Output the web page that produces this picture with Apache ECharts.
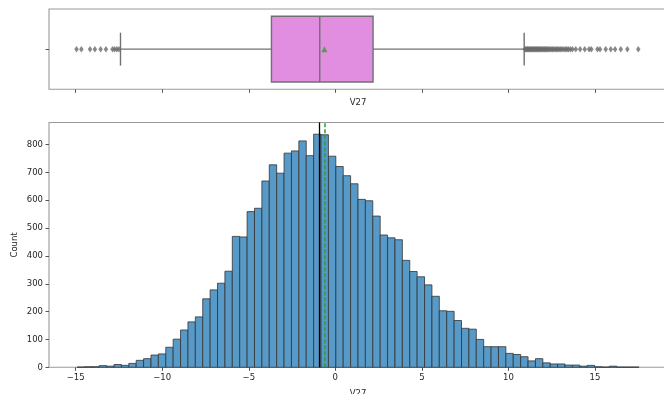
<!DOCTYPE html>
<html>
<head>
<meta charset="utf-8">
<title>V27 distribution</title>
<script src="https://cdn.jsdelivr.net/npm/echarts@6/dist/echarts.min.js"></script>
<style>
  html, body { margin: 0; padding: 0; background: #fff; }
  #chart { width: 664px; height: 394px; }
</style>
</head>
<body>
<div id="chart"></div>
<script>
// Histogram bins: 76 equal-width bins starting at the data minimum
const binStart = -14.92;
const binWidth = 0.4271;
const counts = [
  1, 2, 2, 6, 4, 10, 7, 14, 25, 31, 44, 48, 72, 101, 134, 163, 181, 246,
  278, 302, 345, 470, 468, 559, 571, 669, 727, 697, 769, 777, 813, 760, 837, 835, 758, 721,
  688, 659, 603, 598, 543, 475, 465, 458, 384, 344, 325, 296, 255, 203, 201, 168, 140,
  137, 100, 74, 74, 74, 50, 46, 38, 23, 31, 16, 12, 12, 8, 8, 4, 7, 2, 1, 4, 1, 1, 1
];

// Box plot summary: [lower whisker, Q1, median, Q3, upper whisker]
const boxStats = [-12.41, -3.69, -0.90, 2.18, 10.91];
const meanValue = -0.63;
const medianValue = -0.90;

// Points beyond the whiskers
const lowOutliers = [-14.95, -14.67, -14.17, -13.89, -13.56, -13.25, -12.87, -12.75, -12.62, -12.50];
const highOutliers = [
  10.95, 11.00, 11.06, 11.10, 11.15, 11.20, 11.26, 11.30, 11.35, 11.41, 11.46, 11.50,
  11.56, 11.62, 11.67, 11.72, 11.78, 11.83, 11.90, 11.95, 12.01, 12.08, 12.14, 12.20,
  12.27, 12.33, 12.40, 12.47, 12.55, 12.62, 12.70, 12.78, 12.85, 12.93, 13.02, 13.10,
  13.20, 13.30, 13.38, 13.47, 13.58, 13.70,
  13.89, 14.14, 14.41, 14.66, 14.79, 15.14, 15.29, 15.62, 15.91, 16.16, 16.49, 16.87, 17.50
];

// Tick labels
const xTicks = [-15, -10, -5, 0, 5, 10, 15];
const yTicks = [0, 100, 200, 300, 400, 500, 600, 700, 800];

const histData = counts.map((c, i) => [binStart + i * binWidth, binStart + (i + 1) * binWidth, c]);
const outlierData = lowOutliers.concat(highOutliers).map(v => [v, 0]);

const FONT = 'DejaVu Sans';
const TEXT = '#262626';
const SPINE = '#9a9a9a';
const minus = v => String(v).replace('-', '\u2212');

const chart = echarts.init(document.getElementById('chart'), null, { renderer: 'canvas' });

const xCommon = {
  type: 'value',
  min: -16.54,
  max: 19.16,
  position: 'bottom',
  axisLine: { show: false, onZero: false },
  splitLine: { show: false },
  axisTick: { show: true, length: 3.5, customValues: xTicks, lineStyle: { color: '#555', width: 1 } },
  nameLocation: 'middle',
  nameMoveOverlap: false,
  nameTextStyle: { fontFamily: FONT, fontSize: 8.5, color: TEXT },
  name: 'V27'
};

const gridCommon = {
  left: 49, right: -3, show: true, borderColor: SPINE, borderWidth: 1.1,
  backgroundColor: 'transparent', containLabel: false, outerBoundsMode: 'none'
};

chart.setOption({
  animation: false,
  backgroundColor: '#fff',
  grid: [
    Object.assign({}, gridCommon, { top: 9, height: 80.3 }),
    Object.assign({}, gridCommon, { top: 122.5, height: 244.8 })
  ],
  xAxis: [
    Object.assign({}, xCommon, {
      gridIndex: 0,
      nameGap: 9,
      axisLabel: { show: false }
    }),
    Object.assign({}, xCommon, {
      gridIndex: 1,
      nameGap: 22,
      axisLabel: {
        show: true, customValues: xTicks, margin: 6,
        fontFamily: FONT, fontSize: 8.5, color: TEXT,
        formatter: v => minus(v)
      }
    })
  ],
  yAxis: [
    {
      gridIndex: 0, type: 'value', min: -0.5, max: 0.5, position: 'left',
      axisLine: { show: false, onZero: false }, splitLine: { show: false },
      axisTick: { show: true, length: 3.5, customValues: [0], lineStyle: { color: '#555' } },
      axisLabel: { show: false }
    },
    {
      gridIndex: 1, type: 'value', min: 0, max: 879, position: 'left',
      axisLine: { show: false, onZero: false }, splitLine: { show: false },
      axisTick: { show: true, length: 3.5, customValues: yTicks, lineStyle: { color: '#555' } },
      axisLabel: {
        show: true, customValues: yTicks, margin: 6,
        fontFamily: FONT, fontSize: 8.5, color: TEXT
      },
      name: 'Count', nameLocation: 'middle', nameGap: 30, nameRotate: 90,
      nameMoveOverlap: false,
      nameTextStyle: { fontFamily: FONT, fontSize: 8.5, color: TEXT }
    }
  ],
  series: [
    {
      // box, whiskers, caps and median line
      type: 'custom',
      xAxisIndex: 0, yAxisIndex: 0,
      data: [boxStats],
      renderItem: function (params, api) {
        const lo = api.value(0), q1 = api.value(1), med = api.value(2), q3 = api.value(3), hi = api.value(4);
        const cy = api.coord([0, 0])[1];
        const half = api.size([0, 0.82])[1] / 2;
        const capHalf = half / 2;
        const pLo = api.coord([lo, 0])[0];
        const pQ1 = api.coord([q1, 0])[0];
        const pMed = api.coord([med, 0])[0];
        const pQ3 = api.coord([q3, 0])[0];
        const pHi = api.coord([hi, 0])[0];
        const stroke = { stroke: '#707070', lineWidth: 1.4 };
        return {
          type: 'group',
          children: [
            { type: 'line', shape: { x1: pLo, y1: cy, x2: pQ1, y2: cy }, style: stroke },
            { type: 'line', shape: { x1: pQ3, y1: cy, x2: pHi, y2: cy }, style: stroke },
            { type: 'line', shape: { x1: pLo, y1: cy - capHalf, x2: pLo, y2: cy + capHalf }, style: stroke },
            { type: 'line', shape: { x1: pHi, y1: cy - capHalf, x2: pHi, y2: cy + capHalf }, style: stroke },
            { type: 'rect', shape: { x: pQ1, y: cy - half, width: pQ3 - pQ1, height: 2 * half },
              style: { fill: '#e18ee1', stroke: '#707070', lineWidth: 1.4 } },
            { type: 'line', shape: { x1: pMed, y1: cy - half, x2: pMed, y2: cy + half }, style: stroke }
          ]
        };
      },
      z: 2
    },
    {
      type: 'scatter',
      xAxisIndex: 0, yAxisIndex: 0,
      symbol: 'diamond',
      symbolSize: [4.5, 6.5],
      itemStyle: { color: '#6a6a6a' },
      data: outlierData,
      z: 3
    },
    {
      type: 'scatter',
      xAxisIndex: 0, yAxisIndex: 0,
      symbol: 'triangle',
      symbolSize: 6,
      itemStyle: { color: '#2ca02c' },
      data: [[meanValue, 0]],
      z: 4
    },
    {
      // histogram bars
      type: 'custom',
      xAxisIndex: 1, yAxisIndex: 1,
      data: histData,
      encode: { x: [0, 1], y: 2 },
      renderItem: function (params, api) {
        const p0 = api.coord([api.value(0), api.value(2)]);
        const p1 = api.coord([api.value(1), 0]);
        return {
          type: 'rect',
          shape: { x: p0[0], y: p0[1], width: p1[0] - p0[0], height: p1[1] - p0[1] },
          style: { fill: '#5799c7', stroke: '#333', lineWidth: 0.8 }
        };
      },
      markLine: {
        silent: true,
        symbol: ['none', 'none'],
        label: { show: false },
        data: [
          { xAxis: medianValue, lineStyle: { color: '#000', type: 'solid', width: 1.3 } },
          { xAxis: meanValue, lineStyle: { color: '#2ca02c', type: [4, 2], width: 1.5 } }
        ]
      },
      z: 2
    }
  ]
});
</script>
</body>
</html>
